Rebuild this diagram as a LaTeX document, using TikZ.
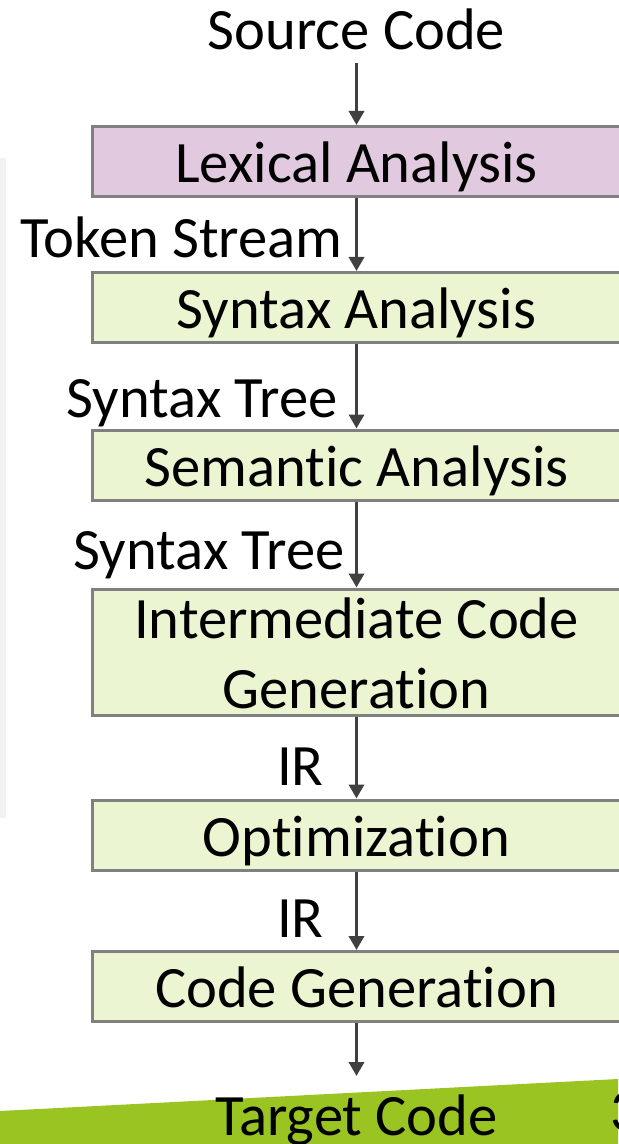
\documentclass[tikz,border=0pt]{standalone}
\usepackage{fontspec}
\setmainfont{Carlito}[Ligatures=NoCommon]
\usetikzlibrary{arrows.meta}
\definecolor{lexfill}{RGB}{225,202,224}
\definecolor{stagefill}{RGB}{235,245,210}
\definecolor{stageline}{RGB}{128,128,128}
\definecolor{flowgray}{RGB}{64,64,64}
\definecolor{slidegreen}{RGB}{154,196,33}
\definecolor{panelgray}{RGB}{242,242,242}

\begin{document}
\begin{tikzpicture}[x=0.5pt,y=-0.5pt,
		font=\fontsize{29.3}{35}\selectfont,
		stage/.style={draw=stageline,line width=1.5pt,fill=stagefill,minimum width=264pt,minimum height=35pt,text height=21pt,text depth=0pt,inner sep=0pt},
		flow/.style={draw=flowgray,line width=1.7pt,-{Triangle[width=7.5pt,length=7pt]}},
		tag/.style={inner sep=0pt}]
		\useasboundingbox (0,0) rectangle (618,1144);
		\fill[panelgray] (0,158) rectangle (6,818);
		\fill[slidegreen] (0,1111) -- (618,1079) -- (618,1144) -- (0,1144) -- cycle;

		\node[tag,anchor=base] (src) at (356.5,50) {Source Code};
		\node[stage,fill=lexfill] (lex) at (356.5,161.5) {Lexical Analysis};
		\node[stage] (syn) at (356.5,307.5) {Syntax Analysis};
		\node[stage] (sem) at (356.5,465) {Semantic Analysis};
		\node[stage,minimum height=63pt,text height=56pt,align=center] (icg) at (356.5,652) {Intermediate Code\\Generation};
		\node[stage] (opt) at (356.5,835) {Optimization};
		\node[stage] (cg) at (356.5,986.5) {Code Generation};
		\coordinate (out) at (356.5,1076);
		\node[tag,anchor=base] (tgt) at (356.5,1135) {Target Code};
		\node[tag,anchor=base west] (page) at (610,1130) {3};

		\draw[flow,shorten <=6pt] (src) -- (lex);
		\draw[flow] (lex) -- (syn);
		\draw[flow] (syn) -- (sem);
		\draw[flow] (sem) -- (icg);
		\draw[flow] (icg) -- (opt);
		\draw[flow] (opt) -- (cg);
		\draw[flow] (cg) -- (out);

		\node[tag,anchor=base east] (tok) at (343,258) {Token Stream};
		\node[tag,anchor=base east] (tree1) at (338,417) {Syntax Tree};
		\node[tag,anchor=base east] (tree2) at (345,569) {Syntax Tree};
		\node[tag,anchor=base east] (ir1) at (324,785) {IR};
		\node[tag,anchor=base east] (ir2) at (324,937) {IR};
	\end{tikzpicture}
\end{document}
